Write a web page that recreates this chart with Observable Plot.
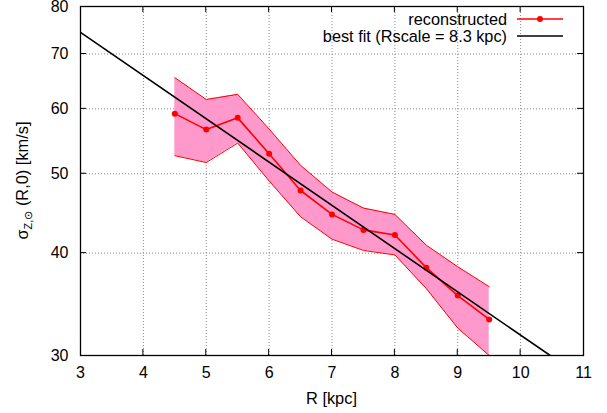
<!DOCTYPE html>
<html><head><meta charset="utf-8">
<script src="https://cdn.jsdelivr.net/npm/d3@7"></script>
<script src="https://cdn.jsdelivr.net/npm/@observablehq/plot@0.6"></script>
<style>body{margin:0;background:#fff} svg{font-family:"Liberation Sans",Arial,sans-serif}</style>
</head><body><div id="chart"></div>
<script>
const R = [4.5, 5, 5.5, 6, 6.5, 7, 7.5, 8, 8.5, 9, 9.5];
const sigma = [59.2, 56.6, 58.5, 52.9, 47.7, 44.6, 42.7, 42.1, 38.4, 35.5, 33.2];
const upper = [65.5, 61.6, 62.5, 56.7, 51.2, 47.5, 45.4, 44.6, 40.9, 38.5, 36.4];
const lower = [52.6, 51.6, 54.5, 49.0, 44.3, 41.6, 40.3, 39.8, 36.2, 32.4, 30.0];
const fitR = [3, 10.47];
const fitSigma = [74.4, 30];
const xTicks = [3, 4, 5, 6, 7, 8, 9, 10, 11];
const yTicks = [30, 40, 50, 60, 70, 80];
const legendLabels = ["reconstructed", "best fit (Rscale = 8.3 kpc)"];

const data = R.map((r, i) => ({r, s: sigma[i], lo: lower[i], hi: upper[i]}));
const fit = fitR.map((r, i) => ({r, s: fitSigma[i]}));

const W = 607, H = 413;
const plot = Plot.plot({
  width: W, height: H,
  marginLeft: 80, marginRight: 24, marginTop: 6, marginBottom: 58,
  style: {fontSize: "16px", fontFamily: "'Liberation Sans', Arial, sans-serif", color: "#000", background: "#fff", overflow: "visible"},
  x: {domain: [3, 11], ticks: xTicks, label: null},
  y: {type: "log", domain: [30, 80], ticks: yTicks, label: null},
  marks: [
    Plot.gridX(xTicks.slice(1, -1), {stroke: "#888", strokeOpacity: 1, strokeDasharray: "1,2", strokeWidth: 1}),
    Plot.gridY(yTicks.slice(1, -1), {stroke: "#888", strokeOpacity: 1, strokeDasharray: "1,2", strokeWidth: 1}),
    Plot.areaY(data, {x: "r", y1: "lo", y2: "hi", fill: "#ff99cc", clip: true}),
    Plot.lineY(data, {x: "r", y: "hi", stroke: "#ff0000", strokeWidth: 1, clip: true}),
    Plot.lineY(data, {x: "r", y: "lo", stroke: "#ff0000", strokeWidth: 1, clip: true}),
    Plot.lineY(data, {x: "r", y: "s", stroke: "#ff0000", strokeWidth: 1.6}),
    Plot.dot(data, {x: "r", y: "s", r: 3, fill: "#ff0000", stroke: "none"}),
    Plot.lineY(fit, {x: "r", y: "s", stroke: "#000", strokeWidth: 1.6, clip: true}),
    Plot.axisX(xTicks, {tickSize: 0, tickPadding: 11, label: null, fontSize: 16}),
    Plot.axisY(yTicks, {tickSize: 0, tickPadding: 12, label: null, fontSize: 16}),
    Plot.frame({stroke: "#000", strokeWidth: 1.3})
  ]
});
document.getElementById("chart").appendChild(plot);

const svg = d3.select(plot);
const sx = plot.scale("x"), sy = plot.scale("y");
const x0 = sx.apply(3), x1 = sx.apply(11), y0 = sy.apply(30), y1 = sy.apply(80);
const g = svg.append("g").attr("stroke", "#000").attr("stroke-width", 1);
const tl = 6;
xTicks.slice(1, -1).forEach(v => {
  const px = sx.apply(v);
  g.append("line").attr("x1", px).attr("x2", px).attr("y1", y0).attr("y2", y0 - tl);
  g.append("line").attr("x1", px).attr("x2", px).attr("y1", y1).attr("y2", y1 + tl);
});
yTicks.slice(1, -1).forEach(v => {
  const py = sy.apply(v);
  g.append("line").attr("y1", py).attr("y2", py).attr("x1", x0).attr("x2", x0 + tl);
  g.append("line").attr("y1", py).attr("y2", py).attr("x1", x1).attr("x2", x1 - tl);
});

// axis titles
const cx = (x0 + x1) / 2, cy = (y0 + y1) / 2;
svg.append("text").attr("x", cx).attr("y", 404).attr("text-anchor", "middle")
  .attr("font-size", 16.4).attr("fill", "#000").text("R [kpc]");
const yl = svg.append("text").attr("transform", `translate(28,${cy}) rotate(-90)`)
  .attr("text-anchor", "middle").attr("font-size", 16.4).attr("fill", "#000");
yl.append("tspan").text("σ");
yl.append("tspan").attr("font-size", 11).attr("dy", 4).text("Z,⊙");
yl.append("tspan").attr("dy", -4).text(" (R,0) [km/s]");

// legend
const lg = svg.append("g");
const legendColors = ["#ff0000", "#000"];
legendLabels.forEach((t, i) => {
  const ly = 19 + i * 17;
  lg.append("text").attr("x", 507).attr("y", ly).attr("dy", "0.35em").attr("text-anchor", "end")
    .attr("font-size", 16.3).attr("fill", "#000").text(t);
  lg.append("line").attr("x1", 517).attr("x2", 563).attr("y1", ly).attr("y2", ly)
    .attr("stroke", legendColors[i]).attr("stroke-width", 1.6);
  if (i === 0) lg.append("circle").attr("cx", 540).attr("cy", ly).attr("r", 3).attr("fill", "#ff0000");
});
</script></body></html>
